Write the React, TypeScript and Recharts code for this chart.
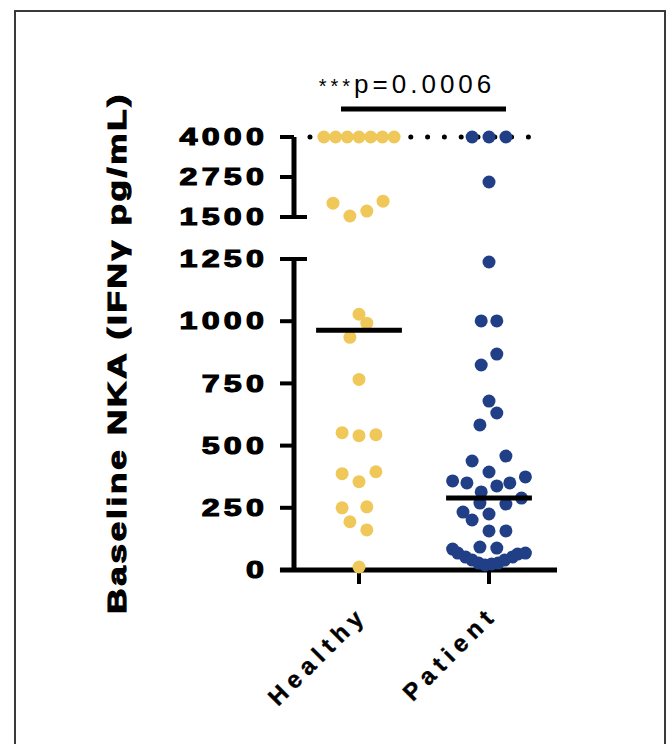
import React from "react";
import { ReferenceLine, Scatter, ScatterChart, XAxis, YAxis } from "recharts";

// groups and axis ticks
const categories = ["Healthy", "Patient"];
const lowTicks = [0, 250, 500, 750, 1000, 1250];
const highTicks = [1500, 2750, 4000];

// IFNγ values, with horizontal spread (in category units)
const healthyValues = [
  4000, 4000, 4000, 4000, 4000, 4000, 4000, 1932, 1531, 1685, 1994, 1028, 992,
  935, 766, 552, 540, 544, 387, 355, 395, 250, 254, 194, 161, 12,
];
const healthySpread = [
  -0.27, -0.18, -0.09, 0, 0.09, 0.18, 0.27, -0.2, -0.07, 0.06, 0.185, 0, 0.06,
  -0.07, 0, -0.13, 0, 0.13, -0.13, 0, 0.13, -0.13, 0.06, -0.07, 0.06, 0,
];
const patientValues = [
  4000, 4000, 4000, 2594, 1238, 1001, 1001, 868, 824, 679, 631, 583, 438, 458,
  394, 358, 350, 338, 350, 374, 314, 289, 269, 265, 233, 201, 225, 157, 157, 92,
  88, 84, 68, 52, 40, 28, 20, 24, 28, 40, 52, 64, 68,
];
const patientSpread = [
  -0.13, 0, 0.13, 0, 0, -0.06, 0.06, 0.06, -0.06, 0, 0.06, -0.07, -0.13, 0.13,
  0, -0.28, -0.17, 0.06, 0.16, 0.28, -0.06, 0.25, -0.07, 0.13, -0.2, -0.13, 0,
  0, 0.13, -0.07, 0.06, -0.28, -0.24, -0.18, -0.13, -0.08, -0.03, 0.02, 0.07,
  0.12, 0.18, 0.22, 0.28,
];

const pLabel = "p=0.0006";
const yLabel = "Baseline NKA (IFNγ pg/mL)";

const YELLOW = "#F0C85A";
const BLUE = "#213F86";
const FONT = "'Liberation Sans', Arial, Helvetica, sans-serif";
const X_DOMAIN = [0.5, 2.523];

const median = (arr: number[]) => {
  const s = [...arr].sort((a, b) => a - b);
  const m = Math.floor(s.length / 2);
  return s.length % 2 ? s[m] : (s[m - 1] + s[m]) / 2;
};

const toPoints = (values: number[], spread: number[], idx: number) =>
  values.map((v, i) => ({ x: idx + 1 + spread[i], y: v }));

const healthyPts = toPoints(healthyValues, healthySpread, 0);
const patientPts = toPoints(patientValues, patientSpread, 1);
const medians = [median(healthyValues), median(patientValues)];

const dot = (color: string) => (props: any) =>
  <circle cx={props.cx} cy={props.cy} r={6.5} fill={color} />;

const YTick = (props: any) => {
  const { x, y, payload } = props;
  return (
    <g transform={`translate(${x},${y})`}>
      <text
        x={0}
        y={0}
        dy="0.36em"
        textAnchor="end"
        transform="scale(1.4,1)"
        fontFamily={FONT}
        fontWeight="bold"
        fontSize={23}
        letterSpacing={3}
        fill="#000"
        stroke="#000"
        strokeWidth={1.1}
      >
        {payload.value}
      </text>
    </g>
  );
};

const XTick = (props: any) => {
  const { x, y, payload } = props;
  const ax = x + 10;
  const ay = y + 30;
  return (
    <text
      x={ax}
      y={ay}
      textAnchor="end"
      transform={`rotate(-45, ${ax}, ${ay})`}
      fontFamily={FONT}
      fontWeight="bold"
      fontSize={24}
      letterSpacing={6}
      fill="#000"
      stroke="#000"
      strokeWidth={0.4}
    >
      {categories[Math.round(payload.value) - 1]}
    </text>
  );
};

const axisLine = { stroke: "#000", strokeWidth: 5 };
const tickLine = { stroke: "#000", strokeWidth: 4 };

const layer: React.CSSProperties = { position: "absolute", left: 0, top: 0 };

export default function App() {
  return (
    <div style={{ position: "absolute", left: 0, top: 0, width: 668, height: 744, background: "#fff", overflow: "hidden" }}>
      <div
        style={{
          position: "absolute",
          left: 14,
          top: 10,
          width: 648,
          height: 760,
          border: "2px solid #3a3a3a",
        }}
      />

      {/* lower segment: 0 - 1250 */}
      <div style={layer}>
        <ScatterChart
          width={668}
          height={744}
          margin={{ top: 259, right: 111, bottom: 114, left: 214 }}
        >
          <XAxis
            type="number"
            dataKey="x"
            domain={X_DOMAIN}
            ticks={[1, 2]}
            height={60}
            tickSize={14}
            axisLine={axisLine}
            tickLine={tickLine}
            tick={<XTick />}
          />
          <YAxis
            type="number"
            dataKey="y"
            domain={[0, 1250]}
            ticks={lowTicks}
            interval={0}
            width={80}
            tickSize={14}
            tickMargin={12}
            axisLine={axisLine}
            tickLine={tickLine}
            tick={<YTick />}
          />
          <ReferenceLine
            segment={[{ x: 0.392, y: 0 }, { x: 0.5, y: 0 }]}
            stroke="#000"
            strokeWidth={5}
            ifOverflow="visible"
          />
          <ReferenceLine
            segment={[{ x: 0.5, y: 1250 }, { x: 0.6, y: 1250 }]}
            stroke="#000"
            strokeWidth={4}
            ifOverflow="visible"
          />
          <Scatter
            data={healthyPts.filter((p) => p.y <= 1250)}
            shape={dot(YELLOW)}
            isAnimationActive={false}
          />
          <Scatter
            data={patientPts.filter((p) => p.y <= 1250)}
            shape={dot(BLUE)}
            isAnimationActive={false}
          />
          {medians.map((m, i) => (
            <ReferenceLine
              key={i}
              segment={[{ x: i + 1 - 0.33, y: m }, { x: i + 1 + 0.33, y: m }]}
              stroke="#000"
              strokeWidth={5}
              ifOverflow="visible"
              zIndex={700}
            />
          ))}
        </ScatterChart>
      </div>

      {/* upper segment: 1500 - 4000 */}
      <div style={layer}>
        <ScatterChart
          width={668}
          height={240}
          margin={{ top: 137, right: 111, bottom: 23, left: 214 }}
        >
          <XAxis type="number" dataKey="x" domain={X_DOMAIN} hide />
          <YAxis
            type="number"
            dataKey="y"
            domain={[1500, 4000]}
            ticks={highTicks}
            interval={0}
            width={80}
            tickSize={14}
            tickMargin={12}
            axisLine={axisLine}
            tickLine={tickLine}
            tick={<YTick />}
          />
          <ReferenceLine
            segment={[{ x: 0.5, y: 1500 }, { x: 0.6, y: 1500 }]}
            stroke="#000"
            strokeWidth={4}
            ifOverflow="visible"
          />
          <ReferenceLine
            segment={[{ x: 0.623, y: 4000 }, { x: 2.43, y: 4000 }]}
            stroke="#000"
            strokeWidth={5}
            strokeDasharray="0 16.8"
            strokeLinecap="round"
            ifOverflow="visible"
            zIndex={100}
          />
          <Scatter
            data={healthyPts.filter((p) => p.y >= 1500)}
            shape={dot(YELLOW)}
            isAnimationActive={false}
          />
          <Scatter
            data={patientPts.filter((p) => p.y >= 1500)}
            shape={dot(BLUE)}
            isAnimationActive={false}
          />
        </ScatterChart>
      </div>

      {/* axis title, significance annotation */}
      <svg width={668} height={744} style={{ ...layer, pointerEvents: "none" }}>
        <text
          transform="translate(126,353) rotate(-90) scale(1.4,1)"
          textAnchor="middle"
          fontFamily={FONT}
          fontWeight="bold"
          fontSize={25}
          letterSpacing={2}
          fill="#000"
          stroke="#000"
          strokeWidth={1.1}
        >
          {yLabel}
        </text>
        <text
          x={407}
          y={93}
          textAnchor="middle"
          fontFamily={FONT}
          fontSize={26}
          letterSpacing={4}
          fill="#000"
        >
          <tspan fontSize={20}>***</tspan>
          {pLabel}
        </text>
        <line x1={341} x2={506} y1={109} y2={109} stroke="#000" strokeWidth={5} />
      </svg>
    </div>
  );
}
